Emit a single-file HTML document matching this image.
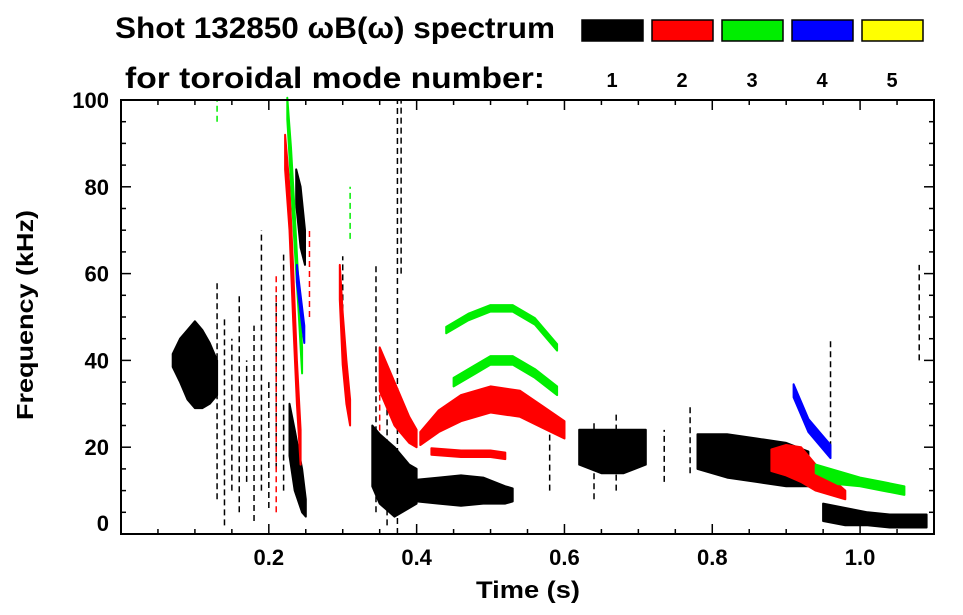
<!DOCTYPE html>
<html><head><meta charset="utf-8">
<style>
html,body{margin:0;padding:0;background:#fff;}
svg{display:block;font-family:"Liberation Sans",sans-serif;font-weight:bold;}
</style></head>
<body>
<svg id="chart" width="963" height="615" viewBox="0 0 963 615" xmlns="http://www.w3.org/2000/svg">
<text x="115" y="38" font-size="30" textLength="440" lengthAdjust="spacingAndGlyphs">Shot 132850 ωB(ω) spectrum</text>
<text x="125" y="88" font-size="30" textLength="420" lengthAdjust="spacingAndGlyphs">for toroidal mode number:</text>
<g id="legend"></g>
<g id="marks"></g>
<g id="axes"></g>
<text x="476" y="598" font-size="24" textLength="104" lengthAdjust="spacingAndGlyphs">Time (s)</text>
<text transform="translate(33,420) rotate(-90)" font-size="23" textLength="210" lengthAdjust="spacingAndGlyphs">Frequency (kHz)</text>
</svg>
<script>
// legend data
var modeNumbers = [1,2,3,4,5];
var modeColors = ["#000000","#ff0000","#00ee00","#0000ff","#ffff00"];
// axis ticks
var xTickLabels = [0.2,0.4,0.6,0.8,1.0];
var yTickLabels = [0,20,40,60,80,100];
// ridge bands: mode, times (s), centre freq (kHz), band width (kHz)
var bandModes = [1,1,1,1,1,1,1,1, 2,2,2,2,2,2, 3,3,3,3, 4,4];
var bandTimes = [
 [0.07,0.08,0.09,0.10,0.11,0.12,0.13],
 [0.228,0.235,0.245,0.25],
 [0.237,0.243,0.249],
 [0.34,0.35,0.37,0.39,0.40],
 [0.40,0.43,0.46,0.49,0.52,0.53],
 [0.62,0.65,0.68,0.71],
 [0.78,0.82,0.86,0.90,0.93],
 [0.95,0.98,1.01,1.04,1.07,1.09],
 [0.222,0.228,0.233,0.238,0.243],
 [0.296,0.300,0.305,0.310],
 [0.35,0.37,0.39,0.40],
 [0.405,0.43,0.46,0.50,0.54,0.57,0.60],
 [0.42,0.46,0.50,0.52],
 [0.88,0.90,0.92,0.94,0.96,0.98],
 [0.225,0.23,0.235,0.24,0.245],
 [0.45,0.48,0.50,0.53,0.56,0.59],
 [0.44,0.47,0.50,0.53,0.56,0.59],
 [0.94,0.97,1.00,1.03,1.06],
 [0.238,0.243,0.248],
 [0.91,0.92,0.93,0.945,0.96]
];
var bandFreqs = [
 [40,40,39,39,38,37,36],
 [24,17,10,6],
 [80,73,66],
 [18,15,12,11,11],
 [10,10,10,10,9,9],
 [20,19,19,20],
 [19,18,17,16,15],
 [5,4,3.5,3,3,3],
 [88,75,55,35,20],
 [58,45,35,28],
 [38,30,24,22],
 [22,26,29,31,30,27,24],
 [19,18.5,18.5,18],
 [17,17,16,13,11,9],
 [98,85,70,55,40],
 [35,38,40,40,37,33],
 [47,50,52,52,49,43],
 [15,13,12,11,10],
 [60,53,46],
 [33,29,25,22,19]
];
var bandWidths = [
 [3,10,16,20,18,14,8],
 [12,14,10,4],
 [8,14,8],
 [14,16,16,10,8],
 [5,6,7,6,4,3],
 [8,10,10,8],
 [8,10,10,10,8],
 [4,4,3,3,3,3],
 [8,10,12,10,8],
 [8,12,10,6],
 [10,10,6,4],
 [3,5,6,6,6,5,4],
 [1.5,1.5,1.5,1.5],
 [5,7,8,6,4,2],
 [5,8,8,6,6],
 [2,2,2,2,2,2],
 [1.5,1.5,1.5,1.5,1.5,1.5],
 [2,3,2,2,2],
 [4,4,4],
 [3,3,3,3,3]
];
// vertical streaks: mode, time (s), f low, f high
var streakModes = [1,1,1,1,1,1,1,1,1,1,1,1,1,1,1,1,1,1,1,1,1,1, 2,2,2, 3,3];
var streakTimes = [0.13,0.14,0.15,0.16,0.17,0.18,0.19,0.20,0.21,0.22,0.374,0.379,0.345,0.36,0.30,0.58,0.64,0.67,0.735,0.77,1.08,0.96];
streakTimes = streakTimes.concat([0.21,0.35,0.255, 0.13,0.31]);
var streakLow = [8,2,10,5,12,3,10,6,15,10,0,60,5,2,40,10,8,10,12,14,40,20, 5,10,50, 95,68];
var streakHigh = [58,50,45,55,40,48,70,35,55,65,100,100,62,30,64,25,26,28,24,30,62,45, 60,40,70, 100,80];
</script>
<script>
var NS="http://www.w3.org/2000/svg";
var PX0=121, PX1=934, PY0=100, PY1=534, TMAX=1.1, FMAX=100;
function xs(t){return PX0+(PX1-PX0)*t/TMAX;}
function ys(f){return PY1-(PY1-PY0)*f/FMAX;}
function mk(tag,parent,attrs){var e=document.createElementNS(NS,tag);for(var k in attrs)e.setAttribute(k,attrs[k]);parent.appendChild(e);return e;}

var legend=document.getElementById('legend');
for(var i=0;i<modeNumbers.length;i++){
  var bx=582+i*70;
  var r=mk('rect',legend,{x:bx,y:20,width:61,height:21,fill:modeColors[i],stroke:'#000','stroke-width':1.5});
  
  
  var tx=mk('text',legend,{x:bx+30,y:87,'font-size':20,'text-anchor':'middle'});
  tx.textContent=modeNumbers[i];
  
  
}

var marks=document.getElementById('marks');
for(var s=0;s<streakTimes.length;s++){
  var ln=mk('line',marks,{x1:xs(streakTimes[s]),x2:xs(streakTimes[s]),y1:ys(streakLow[s]),y2:ys(streakHigh[s]),stroke:modeColors[streakModes[s]-1],'stroke-width':1.5,'stroke-dasharray':'6 4'});
  
  
}
for(var b=0;b<bandTimes.length;b++){
  var T=bandTimes[b],F=bandFreqs[b],W=bandWidths[b],up=[],dn=[];
  for(var j=0;j<T.length;j++){
    up.push(xs(T[j]).toFixed(1)+','+ys(F[j]+W[j]/2).toFixed(1));
    dn.unshift(xs(T[j]).toFixed(1)+','+ys(F[j]-W[j]/2).toFixed(1));
  }
  var p=mk('polygon',marks,{points:up.concat(dn).join(' '),fill:modeColors[bandModes[b]-1],stroke:modeColors[bandModes[b]-1],'stroke-width':2,'stroke-linejoin':'round'});
  
  
}

var axes=document.getElementById('axes');
var frame=mk('rect',axes,{x:PX0,y:PY0,width:PX1-PX0,height:PY1-PY0,fill:'none',stroke:'#000','stroke-width':2});


for(var t=0.05;t<TMAX-0.001;t+=0.05){
  var major=Math.abs(t*10-Math.round(t*10))<0.01 && Math.round(t*10)%2==0;
  var L=major?10:5,x=xs(t);
  var a=mk('line',axes,{x1:x,x2:x,y1:PY1,y2:PY1-L,stroke:'#000','stroke-width':1.5});
  
  
  var c=mk('line',axes,{x1:x,x2:x,y1:PY0,y2:PY0+L,stroke:'#000','stroke-width':1.5});
  
  
}
for(var i2=0;i2<xTickLabels.length;i2++){
  var lt=mk('text',axes,{x:xs(xTickLabels[i2]),y:565,'font-size':22,'text-anchor':'middle'});
  lt.textContent=xTickLabels[i2].toFixed(1);
  
  
}
for(var f=0;f<=FMAX;f+=5){
  var L2=(f%20==0)?10:5,y=ys(f);
  var d=mk('line',axes,{x1:PX0,x2:PX0+L2,y1:y,y2:y,stroke:'#000','stroke-width':1.5});
  
  
  var e=mk('line',axes,{x1:PX1,x2:PX1-L2,y1:y,y2:y,stroke:'#000','stroke-width':1.5});
  
  
}
for(var i3=0;i3<yTickLabels.length;i3++){
  var yy=ys(yTickLabels[i3])+8;
  if(yTickLabels[i3]==0) yy=531;
  var ly=mk('text',axes,{x:109,y:yy,'font-size':22,'text-anchor':'end'});
  ly.textContent=yTickLabels[i3];
  
  
}
</script>
</body></html>
